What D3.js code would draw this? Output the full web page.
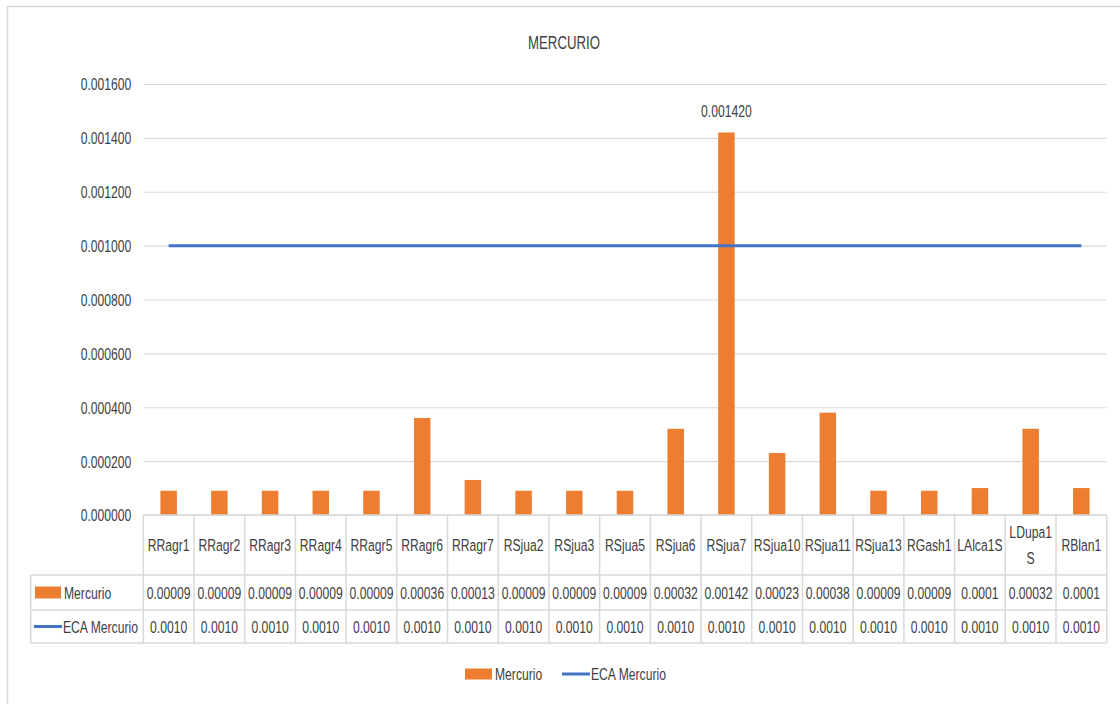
<!DOCTYPE html>
<html>
<head>
<meta charset="utf-8">
<script src="https://cdn.jsdelivr.net/npm/d3@7"></script>
<style>
  body { margin: 0; background: #fff; }
  svg { display: block; font-family: "Liberation Sans", Arial, sans-serif; }
  text { fill: #404040; }
</style>
</head>
<body>
<svg id="chart"></svg>
<script>
const categories = ['RRagr1', 'RRagr2', 'RRagr3', 'RRagr4', 'RRagr5', 'RRagr6', 'RRagr7',
  'RSjua2', 'RSjua3', 'RSjua5', 'RSjua6', 'RSjua7', 'RSjua10', 'RSjua11', 'RSjua13',
  'RGash1', 'LAlca1S', 'LDupa1S', 'RBlan1'];
const mercurio = [0.00009, 0.00009, 0.00009, 0.00009, 0.00009, 0.00036, 0.00013,
  0.00009, 0.00009, 0.00009, 0.00032, 0.00142, 0.00023, 0.00038, 0.00009,
  0.00009, 0.0001, 0.00032, 0.0001];
const ecaMercurio = [0.001, 0.001, 0.001, 0.001, 0.001, 0.001, 0.001,
  0.001, 0.001, 0.001, 0.001, 0.001, 0.001, 0.001, 0.001,
  0.001, 0.001, 0.001, 0.001];
const yTicks = [0, 0.0002, 0.0004, 0.0006, 0.0008, 0.001, 0.0012, 0.0014, 0.0016];
const seriesNames = ['Mercurio', 'ECA Mercurio'];

const W = 1120, H = 704;
const orange = '#ED7D31', blue = '#4472C4', grid = '#D9D9D9';
const plotL = 143.3, plotR = 1106.7, plotT = 84, plotB = 515;
const SX = 0.715; // condensed look of the original font
const FS = 17;

const svg = d3.select('#chart').attr('width', W).attr('height', H);

// text squeezed horizontally
function txt(parent, x, y, str, anchor = 'start', size = FS) {
  return parent.append('text')
    .attr('transform', `translate(${x},${y}) scale(${SX},1)`)
    .attr('text-anchor', anchor)
    .style('font-size', size + 'px')
    .text(str);
}

// chart border
svg.append('rect')
  .attr('x', 7.5).attr('y', 6.5)
  .attr('width', W + 10).attr('height', H + 10)
  .attr('fill', 'none').attr('stroke', grid).attr('stroke-width', 1.5);

txt(svg, 564, 49, 'MERCURIO', 'middle', 18.5);

const x = d3.scaleBand().domain(categories).range([plotL, plotR]).padding(0);
const xBar = d3.scaleBand().domain(categories).range([plotL, plotR])
  .paddingInner(0.675).paddingOuter(0.3375);
const y = d3.scaleLinear().domain([0, 0.0016]).range([plotB, plotT]);

// gridlines + y axis
const yAxis = d3.axisLeft(y)
  .tickValues(yTicks)
  .tickFormat(d3.format('.6f'))
  .tickSize(-(plotR - plotL))
  .tickPadding(12);
const gy = svg.append('g')
  .attr('transform', `translate(${plotL},0)`)
  .call(yAxis);
gy.select('.domain').remove();
gy.selectAll('.tick line').attr('stroke', grid).attr('stroke-width', 1.2);
gy.selectAll('.tick text')
  .attr('transform', `scale(${SX},1)`)
  .attr('x', -12 / SX)
  .attr('dy', '0.35em')
  .style('font-size', FS + 'px')
  .attr('fill', '#404040');

// bars
svg.selectAll('.bar')
  .data(mercurio)
  .join('rect')
    .attr('class', 'bar')
    .attr('x', (_, i) => xBar(categories[i]))
    .attr('y', d => y(d))
    .attr('width', xBar.bandwidth())
    .attr('height', d => plotB - y(d))
    .attr('fill', orange);

// ECA line
const line = d3.line()
  .x((_, i) => x(categories[i]) + x.bandwidth() / 2)
  .y(d => y(d));
svg.append('path')
  .datum(ecaMercurio)
  .attr('d', line)
  .attr('fill', 'none')
  .attr('stroke', blue)
  .attr('stroke-width', 3);

// data label on the max value
const iMax = d3.maxIndex(mercurio);
txt(svg, x(categories[iMax]) + x.bandwidth() / 2, y(mercurio[iMax]) - 15,
  d3.format('.6f')(mercurio[iMax]), 'middle');

// data table
const rowTop = [plotB, 575, 610, 643];
const labelLeft = 30.7;
const tbl = svg.append('g');
const lines = tbl.append('g');

lines.append('line').attr('x1', plotL).attr('x2', plotR).attr('y1', rowTop[0]).attr('y2', rowTop[0]);
rowTop.slice(1).forEach(yy => {
  lines.append('line').attr('x1', labelLeft).attr('x2', plotR).attr('y1', yy).attr('y2', yy);
});
x.domain().forEach(c => {
  lines.append('line').attr('x1', x(c)).attr('x2', x(c)).attr('y1', rowTop[0]).attr('y2', rowTop[3]);
});
lines.append('line').attr('x1', plotR).attr('x2', plotR).attr('y1', rowTop[0]).attr('y2', rowTop[3]);
lines.append('line').attr('x1', labelLeft).attr('x2', labelLeft).attr('y1', rowTop[1]).attr('y2', rowTop[3]);
lines.selectAll('line').attr('stroke', grid).attr('stroke-width', 1.5);

// header labels (wrap when too wide)
const hMid = (rowTop[0] + rowTop[1]) / 2;
categories.forEach(c => {
  const cx = x(c) + x.bandwidth() / 2;
  const t = txt(tbl, cx, hMid + 6, c, 'middle');
  if (t.node().getComputedTextLength() * SX > 48) {
    let a = c, b = '';
    while (a.length > 1) {
      b = a.slice(-1) + b;
      a = a.slice(0, -1);
      t.text(a);
      if (t.node().getComputedTextLength() * SX <= 48) break;
    }
    t.remove();
    txt(tbl, cx, hMid - 7, a, 'middle');
    txt(tbl, cx, hMid + 19, b, 'middle');
  }
});

// value rows
const rows = [
  { values: mercurio, fmt: v => String(v) },
  { values: ecaMercurio, fmt: v => v.toFixed(4) }
];
rows.forEach((r, ri) => {
  const cy = (rowTop[ri + 1] + rowTop[ri + 2]) / 2 + 6;
  r.values.forEach((v, i) => {
    txt(tbl, x(categories[i]) + x.bandwidth() / 2, cy, r.fmt(v), 'middle');
  });
});

// row legend keys
const r1 = (rowTop[1] + rowTop[2]) / 2, r2 = (rowTop[2] + rowTop[3]) / 2;
tbl.append('rect').attr('x', 35).attr('y', r1 - 6).attr('width', 26).attr('height', 12).attr('fill', orange);
tbl.append('line').attr('x1', 34).attr('x2', 62).attr('y1', r2).attr('y2', r2)
  .attr('stroke', blue).attr('stroke-width', 3);
txt(tbl, 64, r1 + 6, seriesNames[0]);
txt(tbl, 63, r2 + 6, seriesNames[1]);

// bottom legend
const lg = svg.append('g');
lg.append('rect').attr('x', 465).attr('y', 668.5).attr('width', 27).attr('height', 11).attr('fill', orange);
txt(lg, 495, 680, seriesNames[0]);
lg.append('line').attr('x1', 562).attr('x2', 590).attr('y1', 674).attr('y2', 674)
  .attr('stroke', blue).attr('stroke-width', 3);
txt(lg, 591, 680, seriesNames[1]);
</script>
</body>
</html>
